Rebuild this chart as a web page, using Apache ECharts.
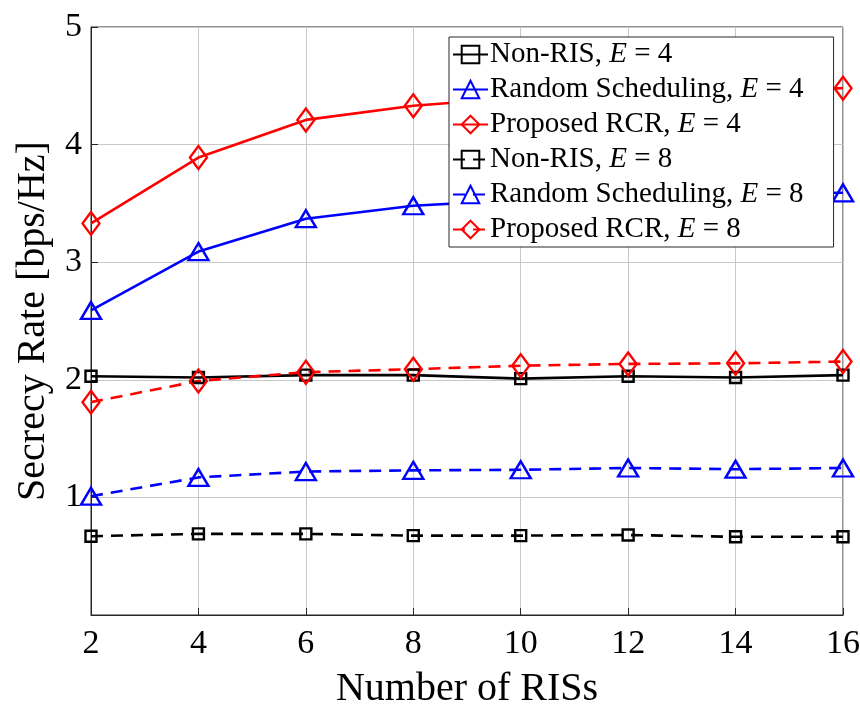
<!DOCTYPE html>
<html>
<head>
<meta charset="utf-8">
<script src="https://cdn.jsdelivr.net/npm/echarts@6/dist/echarts.min.js"></script>
<style>
	html, body { margin: 0; padding: 0; background: #fff; }
	#main { width: 860px; height: 704px; }
</style>
</head>
<body>
<div id="main"></div>
<script>
	// number of RISs
	const risCounts = [2, 4, 6, 8, 10, 12, 14, 16];

	// secrecy rate, E = 4
	const nonRisE4 = [2.03, 2.02, 2.04, 2.04, 2.01, 2.03, 2.02, 2.04];
	const randomE4 = [2.59, 3.09, 3.37, 3.48, 3.53, 3.56, 3.58, 3.59];
	const proposedE4 = [3.33, 3.89, 4.21, 4.33, 4.40, 4.43, 4.45, 4.48];

	// secrecy rate, E = 8
	const nonRisE8 = [0.67, 0.69, 0.69, 0.675, 0.675, 0.68, 0.665, 0.665];
	const randomE8 = [1.01, 1.17, 1.22, 1.23, 1.235, 1.25, 1.24, 1.25];
	const proposedE8 = [1.81, 1.99, 2.065, 2.09, 2.12, 2.135, 2.14, 2.155];

	const yTicks = [0, 1, 2, 3, 4, 5];

	const serif = 'Liberation Serif';
	const axisColor = '#262626';

	function pairs(values) {
		return risCounts.map((x, i) => [x, values[i]]);
	}

	function makeSeries(name, values, color, symbol, size, dashed) {
		return {
			name: name,
			type: 'line',
			data: pairs(values),
			color: color,
			symbol: symbol,
			symbolSize: size,
			showAllSymbol: true,
			lineStyle: {
				color: color,
				width: 2.6,
				type: dashed ? [12, 8] : 'solid'
			},
			itemStyle: {
				color: 'rgba(255,255,255,0)',
				borderColor: color,
				borderWidth: 2.4
			},
			emphasis: { disabled: true },
			animation: false
		};
	}

	const legendRich = {
		n: { fontFamily: serif, fontSize: 29, color: '#000' },
		i: { fontFamily: serif, fontSize: 29, fontStyle: 'italic', color: '#000' }
	};

	const myChart = echarts.init(document.getElementById('main'));

	const option = {
		backgroundColor: '#fff',
		animation: false,
		grid: {
			left: 91,
			right: 17,
			top: 27,
			bottom: 89,
			outerBoundsMode: 'none',
			containLabel: false,
			show: true,
			borderColor: axisColor,
			borderWidth: 1
		},
		legend: {
			orient: 'vertical',
			left: 449,
			top: 37,
			padding: [3, 30, 3, 3],
			itemGap: 6,
			itemWidth: 35,
			itemHeight: 22,
			backgroundColor: '#fff',
			borderColor: axisColor,
			borderWidth: 1,
			z: 10,
			formatter: function (name) {
				const parts = name.split('E');
				return '{n|' + parts[0] + '}{i|E}{n|' + parts[1] + '}';
			},
			textStyle: { rich: legendRich, padding: [0, 0, 0, -3] }
		},
		xAxis: {
			type: 'value',
			min: 2,
			max: 16,
			interval: 2,
			name: 'Number of RISs',
			nameLocation: 'middle',
			nameGap: 54,
			nameTextStyle: { fontFamily: serif, fontSize: 40, color: '#000' },
			axisLine: { lineStyle: { color: axisColor, width: 1 } },
			axisTick: { inside: true, length: 7, lineStyle: { color: axisColor } },
			axisLabel: { fontFamily: serif, fontSize: 34, color: '#000', margin: 12 },
			splitLine: { show: true, lineStyle: { color: '#c8c8c8', width: 1 } }
		},
		yAxis: {
			type: 'value',
			min: yTicks[0],
			max: yTicks[yTicks.length - 1],
			interval: 1,
			name: 'Secrecy Rate [bps/Hz]',
			nameLocation: 'middle',
			nameGap: 38,
			nameTextStyle: { fontFamily: serif, fontSize: 40, color: '#000' },
			axisLine: { show: true, lineStyle: { color: axisColor, width: 1 } },
			axisTick: { show: true, inside: true, length: 7, lineStyle: { color: axisColor } },
			axisLabel: {
				fontFamily: serif,
				fontSize: 34,
				color: '#000',
				margin: 9,
				formatter: function (v) {
					return v === 0 ? '' : String(v);
				}
			},
			splitLine: { show: true, lineStyle: { color: '#c8c8c8', width: 1 } }
		},
		series: [
			makeSeries('Non-RIS, E = 4', nonRisE4, '#000000', 'rect', 11, false),
			makeSeries('Random Scheduling, E = 4', randomE4, '#0000ff', 'triangle', [20, 17], false),
			makeSeries('Proposed RCR, E = 4', proposedE4, '#ff0000', 'diamond', [17, 23], false),
			makeSeries('Non-RIS, E = 8', nonRisE8, '#000000', 'rect', 11, true),
			makeSeries('Random Scheduling, E = 8', randomE8, '#0000ff', 'triangle', [20, 17], true),
			makeSeries('Proposed RCR, E = 8', proposedE8, '#ff0000', 'diamond', [17, 23], true)
		]
	};

	myChart.setOption(option);
</script>
</body>
</html>
